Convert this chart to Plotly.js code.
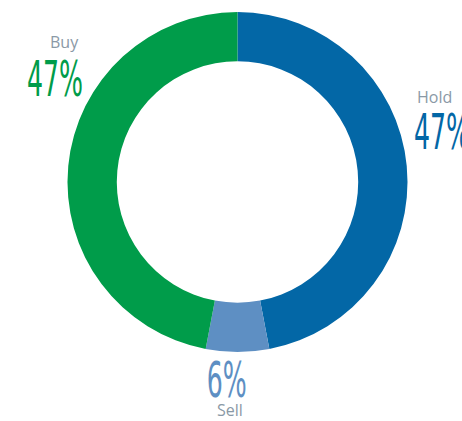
<!DOCTYPE html>
<html>
<head>
<meta charset="utf-8">
<script src="https://cdn.plot.ly/plotly-3.0.1.min.js"></script>
<style>
html,body{margin:0;padding:0;background:#fff;}
#chart{width:462px;height:421px;}
.annotation-text.pct{transform-box:fill-box;transform-origin:center;transform:scaleX(0.56);}
</style>
</head>
<body>
<div id="chart"></div>
<script>
const categories = ["Hold", "Sell", "Buy"];
const shares = [47, 6, 47];
const percentLabels = ["47%", "6%", "47%"];
const sliceColors = ["#0367a6", "#5e8fc3", "#009c4a"];
const labelGray = "#8a99a6";

const W = 462, H = 421;
const cx = 237.5, cy = 182, R = 170;

const trace = {
  type: "pie",
  labels: categories,
  values: shares,
  sort: false,
  direction: "clockwise",
  rotation: 0,
  hole: 0.71,
  marker: {colors: sliceColors, line: {width: 0}},
  textinfo: "none",
  hoverinfo: "label+percent",
  showlegend: false,
  domain: {
    x: [(cx - R) / W, (cx + R) / W],
    y: [(H - cy - R) / H, (H - cy + R) / H]
  }
};

function px(x){return x / W;}
function py(y){return 1 - y / H;}

const nameFont = {family: "Open Sans, Noto Sans, sans-serif", size: 16, color: labelGray};
const pctFamily = "Liberation Sans Narrow, DejaVu Sans Condensed, sans-serif";
const pctFontSize = 50;
const annotations = [
  {text: categories[2], x: px(64), y: py(42), font: nameFont},
  {text: percentLabels[2], x: px(55), y: py(79), font: {family: pctFamily, size: pctFontSize, color: sliceColors[2]}},
  {text: categories[0], x: px(434), y: py(97), font: nameFont},
  {text: percentLabels[0], x: px(442), y: py(132), font: {family: pctFamily, size: pctFontSize, color: sliceColors[0]}},
  {text: percentLabels[1], x: px(226), y: py(380), font: {family: pctFamily, size: pctFontSize, color: sliceColors[1]}},
  {text: categories[1], x: px(230), y: py(410), font: nameFont}
].map(a => ({
  text: a.text, x: a.x, y: a.y, xref: "paper", yref: "paper",
  xanchor: "center", yanchor: "middle", showarrow: false, font: a.font
}));

const layout = {
  width: W, height: H,
  margin: {l: 0, r: 0, t: 0, b: 0},
  paper_bgcolor: "#ffffff",
  plot_bgcolor: "#ffffff",
  annotations: annotations
};

Plotly.newPlot("chart", [trace], layout, {displayModeBar: false, staticPlot: true}).then(function(gd){
  const texts = gd.querySelectorAll(".annotation-text");
  texts.forEach(function(t){
    if (/%$/.test(t.textContent)) t.classList.add("pct");
  });
});
</script>
</body>
</html>
